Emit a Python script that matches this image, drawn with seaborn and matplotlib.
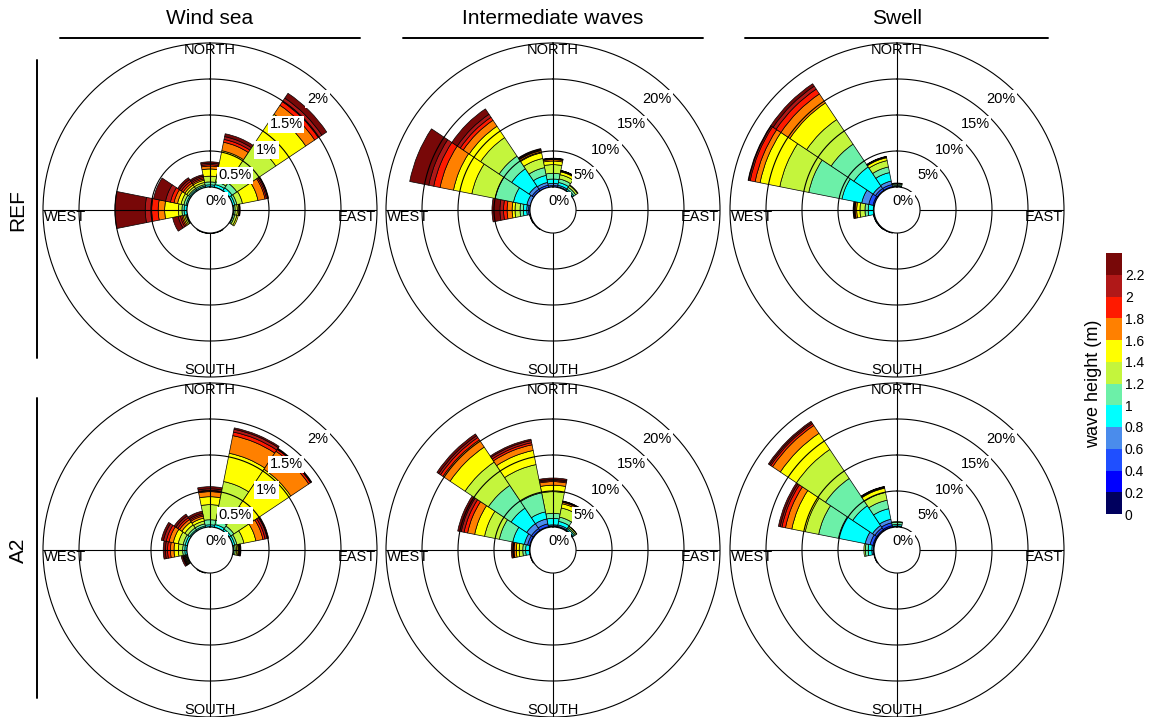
"""Directional wave roses (REF vs A2) for wind sea, intermediate waves and swell."""

import numpy as np
import matplotlib

matplotlib.use("Agg")
import matplotlib.pyplot as plt
import seaborn as sns
from matplotlib.cm import ScalarMappable
from matplotlib.colors import BoundaryNorm, ListedColormap
from matplotlib.lines import Line2D

# ---- data -----------------------------------------------------------------
DIRECTIONS = ["N", "NNE", "NE", "ENE", "E", "ESE", "SE", "SSE",
              "S", "SSW", "SW", "WSW", "W", "WNW", "NW", "NNW"]
HEIGHT_EDGES = [0, 0.2, 0.4, 0.6, 0.8, 1.0, 1.2, 1.4, 1.6, 1.8, 2.0, 2.2, 2.4]
HEIGHT_TICKS = ["0", "0.2", "0.4", "0.6", "0.8", "1", "1.2", "1.4", "1.6",
                "1.8", "2", "2.2"]
HEIGHT_COLORS = ["#00005e", "#0000ff", "#1f4fff", "#4a8cec", "#00ffff",
                 "#6cf0a8", "#c4f53c", "#ffff00", "#ff8000", "#ff1a00",
                 "#b01818", "#780808"]

COLUMN_TITLES = ["Wind sea", "Intermediate waves", "Swell"]
ROW_TITLES = ["REF", "A2"]
RING_STEPS = [0.5, 5, 5]  # percent between rings, per column

# frequency (%) per height class, per direction
wind_sea_ref = {
    "N":   [0, 0, 0, 0, 0.03, 0.04, 0.08, 0.10, 0.04, 0.02, 0.02, 0.02],
    "NNE": [0, 0, 0, 0, 0.04, 0.04, 0.14, 0.30, 0.12, 0.04, 0.04, 0.04],
    "NE":  [0, 0, 0, 0, 0.05, 0.08, 0.65, 0.50, 0.15, 0.06, 0.06, 0.08],
    "ENE": [0, 0, 0, 0, 0.03, 0.03, 0.08, 0.22, 0.10, 0.02, 0.02, 0.01],
    "E":   [0, 0, 0, 0, 0.01, 0.02, 0.03, 0.02, 0.01, 0, 0, 0.01],
    "ESE": [0, 0, 0, 0, 0.01, 0.02, 0.03, 0.02, 0, 0, 0, 0],
    "SSE": [0, 0, 0, 0, 0.004, 0.004, 0, 0, 0, 0, 0, 0],
    "S":   [0, 0, 0, 0, 0.004, 0.004, 0, 0, 0, 0, 0, 0],
    "SSW": [0, 0, 0, 0, 0.004, 0.004, 0, 0, 0, 0, 0, 0],
    "WSW": [0, 0, 0, 0, 0.01, 0.01, 0.02, 0.02, 0.02, 0.02, 0.03, 0.08],
    "W":   [0, 0, 0, 0, 0.04, 0.03, 0.05, 0.19, 0.09, 0.09, 0.09, 0.42],
    "WNW": [0, 0, 0, 0, 0.02, 0.03, 0.04, 0.05, 0.05, 0.05, 0.07, 0.17],
    "NW":  [0, 0, 0, 0, 0.02, 0.02, 0.03, 0.03, 0.03, 0.03, 0.03, 0.03],
    "NNW": [0, 0, 0, 0, 0.02, 0.02, 0.03, 0.03, 0.02, 0.02, 0.02, 0.02],
}
intermediate_ref = {
    "N":   [0, 0, 0.2, 0.3, 0.6, 0.8, 1.2, 0.5, 0.2, 0.1, 0.05, 0.05],
    "NNE": [0, 0, 0.1, 0.2, 0.4, 0.5, 0.6, 0.4, 0.1, 0.05, 0.03, 0.02],
    "NE":  [0, 0, 0, 0.1, 0.2, 0.3, 0.3, 0.1, 0, 0, 0, 0],
    "SW":  [0, 0, 0.04, 0.04, 0, 0, 0, 0, 0, 0, 0, 0],
    "WSW": [0, 0, 0.04, 0.04, 0.04, 0, 0, 0, 0, 0, 0, 0],
    "W":   [0, 0, 0.2, 0.25, 0.47, 0.46, 0.7, 0.4, 0.7, 0.5, 0.5, 1.1],
    "WNW": [0, 0, 0, 0.5, 1.9, 2.6, 3.3, 2.6, 1.9, 0.9, 0.7, 2.7],
    "NW":  [0, 0, 0.3, 0.5, 2.9, 2.1, 3.1, 1.9, 1.0, 0.5, 0.5, 0.9],
    "NNW": [0, 0, 0.3, 0.4, 1.0, 1.1, 1.3, 0.8, 0.3, 0.1, 0.1, 0.1],
}
swell_ref = {
    "N":   [0, 0, 0, 0.1, 0.1, 0.2, 0.1, 0.05, 0, 0, 0, 0],
    "SSW": [0, 0.04, 0.04, 0, 0, 0, 0, 0, 0, 0, 0, 0],
    "SW":  [0, 0.04, 0.04, 0.04, 0, 0, 0, 0, 0, 0, 0, 0],
    "WSW": [0, 0, 0.05, 0.05, 0.05, 0, 0, 0, 0, 0, 0, 0],
    "W":   [0, 0, 0, 0.1, 0.7, 0.45, 0.7, 0.45, 0.2, 0.1, 0.1, 0.1],
    "WNW": [0, 0.2, 0.6, 1.0, 2.8, 4.7, 4.1, 2.8, 0.7, 0.7, 0.2, 0.1],
    "NW":  [0, 0.1, 0.3, 0.4, 3.2, 3.8, 4.1, 2.8, 1.5, 0.8, 0.5, 0.4],
    "NNW": [0, 0.1, 0.3, 0.5, 1.2, 0.8, 0.9, 0.4, 0.1, 0.05, 0.05, 0],
}
wind_sea_a2 = {
    "N":   [0, 0, 0, 0, 0.03, 0.07, 0.21, 0.11, 0.07, 0.02, 0.02, 0.03],
    "NNE": [0, 0, 0, 0, 0.04, 0.06, 0.55, 0.40, 0.25, 0.05, 0.04, 0.02],
    "NE":  [0, 0, 0, 0, 0.03, 0.05, 0.33, 0.62, 0.30, 0.03, 0.01, 0.01],
    "ENE": [0, 0, 0, 0, 0.03, 0.03, 0.10, 0.17, 0.10, 0.03, 0.03, 0.02],
    "E":   [0, 0, 0, 0, 0.01, 0.02, 0.02, 0.02, 0.01, 0.01, 0.01, 0.01],
    "SSW": [0, 0, 0, 0, 0.004, 0.004, 0, 0, 0, 0, 0, 0],
    "WSW": [0, 0, 0, 0, 0.01, 0.01, 0.01, 0.01, 0.01, 0.01, 0.01, 0.02],
    "W":   [0, 0, 0, 0, 0.03, 0.03, 0.06, 0.06, 0.05, 0.04, 0.03, 0.03],
    "WNW": [0, 0, 0, 0, 0.03, 0.03, 0.07, 0.07, 0.06, 0.04, 0.04, 0.03],
    "NW":  [0, 0, 0, 0, 0.02, 0.03, 0.05, 0.05, 0.04, 0.03, 0.03, 0.03],
    "NNW": [0, 0, 0, 0, 0.02, 0.03, 0.04, 0.04, 0.03, 0.02, 0.02, 0.03],
}
intermediate_a2 = {
    "N":   [0, 0.05, 0.1, 0.15, 0.9, 0.7, 3.0, 0.9, 0.5, 0.15, 0.15, 0.2],
    "NNE": [0, 0.05, 0.1, 0.2, 0.5, 0.6, 1.3, 0.6, 0.2, 0.1, 0.05, 0.05],
    "NE":  [0, 0, 0.05, 0.1, 0.2, 0.2, 0.2, 0.05, 0, 0, 0, 0],
    "WSW": [0, 0, 0.04, 0.04, 0, 0, 0, 0, 0, 0, 0, 0],
    "W":   [0, 0, 0, 0.1, 0.5, 0.4, 0.5, 0.4, 0.3, 0.1, 0.1, 0.2],
    "WNW": [0, 0.1, 0.3, 0.45, 1.65, 1.9, 2.1, 1.4, 1.0, 0.5, 0.4, 0.5],
    "NW":  [0, 0.1, 0.3, 0.8, 2.6, 3.8, 3.9, 2.5, 1.2, 0.4, 0.3, 0.3],
    "NNW": [0, 0.1, 0.4, 0.7, 1.0, 2.7, 4.0, 2.0, 0.8, 0.3, 0.3, 0.2],
}
swell_a2 = {
    "N":   [0, 0, 0.05, 0.1, 0.2, 0.3, 0.1, 0, 0, 0, 0, 0],
    "WSW": [0, 0.04, 0.04, 0, 0, 0, 0, 0, 0, 0, 0, 0],
    "W":   [0, 0, 0.1, 0.2, 0.5, 0.4, 0.2, 0, 0, 0, 0, 0],
    "WNW": [0.05, 0.15, 0.4, 0.7, 3.8, 2.8, 1.9, 1.9, 0.9, 0.5, 0.25, 0.25],
    "NW":  [0.05, 0.15, 0.3, 0.4, 3.3, 4.55, 4.85, 2.7, 1.3, 0.3, 0.2, 0.2],
    "NNW": [0.05, 0.2, 0.4, 0.5, 1.5, 1.2, 1.1, 0.6, 0.1, 0.05, 0.05, 0.05],
}

PANELS = [[wind_sea_ref, intermediate_ref, swell_ref],
          [wind_sea_a2, intermediate_a2, swell_a2]]

# ---- layout ---------------------------------------------------------------
W, H = 1153, 717
CX = [210, 553, 897]
CY = [210, 550]
R_PX = 167


def draw_rose(ax, data, step, palette):
    rmax = 4 * step
    ax.set_theta_zero_location("N")
    ax.set_theta_direction(-1)
    ax.set_ylim(0, rmax)
    ax.set_rorigin(-0.16 * rmax)
    ax.grid(False)
    ax.set_xticks([])
    ax.set_yticks([])
    ax.set_facecolor("white")
    for name in ("polar", "inner"):
        ax.spines[name].set_color("black")
        ax.spines[name].set_linewidth(0.8)

    width = 2 * np.pi / len(DIRECTIONS)
    for k, d in enumerate(DIRECTIONS):
        if d not in data:
            continue
        theta = np.deg2rad(k * 360 / len(DIRECTIONS))
        bottom = 0.0
        for c, v in enumerate(data[d]):
            if v <= 0:
                continue
            ax.bar(theta, v, width=width, bottom=bottom, color=palette[c],
                   edgecolor="black", linewidth=0.5, zorder=1.5)
            bottom += v

    t = np.linspace(0, 2 * np.pi, 361)
    for i in range(1, 4):
        ax.plot(t, np.full_like(t, i * step), color="black", lw=0.8, zorder=3)
    for a in (0, 90, 180, 270):
        ax.plot([np.deg2rad(a)] * 2, [0, rmax], color="black", lw=0.8, zorder=3)

    for i in range(5):
        ax.text(np.pi / 4, i * step, f"{i * step:g}%", ha="right", va="top",
                fontsize=10.5, zorder=6,
                bbox=dict(boxstyle="square,pad=0.12", fc="white", ec="none"))

    ax.text(0, rmax, "NORTH", ha="center", va="top", fontsize=10.5, zorder=5)
    ax.text(np.pi, rmax, "SOUTH", ha="center", va="bottom", fontsize=10.5, zorder=5)
    ax.text(np.pi / 2, rmax * 0.995, "EAST", ha="right", va="top", fontsize=10.5, zorder=5)
    ax.text(3 * np.pi / 2, rmax * 0.995, "WEST", ha="left", va="top", fontsize=10.5, zorder=5)


def main():
    sns.set_theme(style="white")
    plt.rcParams["font.family"] = ["Liberation Sans", "DejaVu Sans"]
    plt.rcParams["text.color"] = "black"
    plt.rcParams["axes.labelcolor"] = "black"
    plt.rcParams["ytick.color"] = "black"
    palette = sns.color_palette(HEIGHT_COLORS)

    fig = plt.figure(figsize=(W / 100, H / 100), dpi=100)

    for r, row in enumerate(PANELS):
        for c, data in enumerate(row):
            rect = [(CX[c] - R_PX) / W, (H - CY[r] - R_PX) / H,
                    2 * R_PX / W, 2 * R_PX / H]
            ax = fig.add_axes(rect, projection="polar")
            draw_rose(ax, data, RING_STEPS[c], palette)

    # column and row headers
    line_x = [(60, 360), (403, 703), (745, 1048)]
    for c, title in enumerate(COLUMN_TITLES):
        fig.text(CX[c] / W, 1 - 18 / H, title, ha="center", va="center", fontsize=15)
        x0, x1 = line_x[c]
        fig.add_artist(Line2D([x0 / W, x1 / W], [1 - 38 / H] * 2, color="black", lw=1.4))
    line_y = [(60, 358), (398, 698)]
    for r, title in enumerate(ROW_TITLES):
        fig.text(18 / W, 1 - CY[r] / H, title, ha="center", va="center",
                 rotation=90, fontsize=15)
        y0, y1 = line_y[r]
        fig.add_artist(Line2D([37 / W] * 2, [1 - y0 / H, 1 - y1 / H], color="black", lw=1.4))

    # colour bar
    cax = fig.add_axes([1106 / W, 1 - 514 / H, 16 / W, 261 / H])
    cmap = ListedColormap(palette)
    norm = BoundaryNorm(HEIGHT_EDGES, cmap.N)
    cb = fig.colorbar(ScalarMappable(norm=norm, cmap=cmap), cax=cax,
                      ticks=HEIGHT_EDGES[:-1])
    cb.set_ticklabels(HEIGHT_TICKS)
    cb.outline.set_visible(False)
    cax.minorticks_off()
    cax.tick_params(which="both", length=0, labelsize=10, pad=2)
    cax.yaxis.set_label_position("left")
    cax.set_ylabel("wave height (m)", fontsize=13, labelpad=3)

    fig.savefig("out.png", dpi=100)


if __name__ == "__main__":
    main()
